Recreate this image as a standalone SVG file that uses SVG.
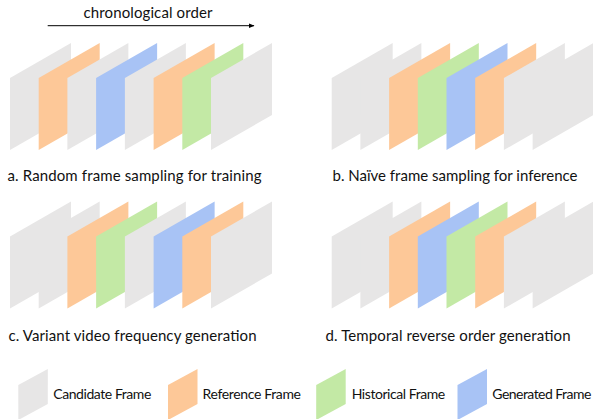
<svg xmlns="http://www.w3.org/2000/svg" xmlns:xlink="http://www.w3.org/1999/xlink" width="593" height="419" viewBox="0 0 593 419">
<style>
.g{fill:#E7E6E6}
.o{fill:#FDC898}
.h{fill:#C3E9A5}
.b{fill:#A8C3F5}
text{font-family:"Lato","Liberation Sans",sans-serif;font-size:15px;fill:#111}
.lg{font-size:14px}
</style>
<defs>
<polygon id="fr" points="0,35 61,0 61,72 0,107"/>
<polygon id="lf" points="0,16 29.5,0 29.5,35 0,51"/>
<marker id="ah" markerWidth="6" markerHeight="6" refX="5" refY="3" orient="auto" markerUnits="userSpaceOnUse">
<path d="M0,0.8 L5.5,3 L0,5.2 Z" fill="#000"/>
</marker>
</defs>
<g id="connectors">
<line x1="47.7" y1="25.7" x2="254" y2="25.7" stroke="#000" stroke-width="1" marker-end="url(#ah)"/>
</g>
<text x="83.5" y="17.5" textLength="129">chronological order</text>
<g id="panel-a">
<use id="a1" href="#fr" class="g" x="10" y="43"/>
<use id="a2" href="#fr" class="o" x="38.7" y="43"/>
<use id="a3" href="#fr" class="g" x="67.4" y="43"/>
<use id="a4" href="#fr" class="b" x="96.1" y="43"/>
<use id="a5" href="#fr" class="g" x="124.9" y="43"/>
<use id="a6" href="#fr" class="o" x="153.6" y="43"/>
<use id="a7" href="#fr" class="h" x="182.3" y="43"/>
<use id="a8" href="#fr" class="g" x="211" y="43"/>
<text x="7.5" y="181" textLength="254">a. Random frame sampling for training</text>
</g>
<g id="panel-b">
<use id="b1" href="#fr" class="g" x="331.7" y="43"/>
<use id="b2" href="#fr" class="g" x="360.4" y="43"/>
<use id="b3" href="#fr" class="o" x="389.1" y="43"/>
<use id="b4" href="#fr" class="h" x="417.8" y="43"/>
<use id="b5" href="#fr" class="b" x="446.5" y="43"/>
<use id="b6" href="#fr" class="o" x="475.2" y="43"/>
<use id="b7" href="#fr" class="g" x="503.9" y="43"/>
<use id="b8" href="#fr" class="g" x="532.6" y="43"/>
<text x="332.5" y="181" textLength="245">b. Naïve frame sampling for inference</text>
</g>
<g id="panel-c">
<use id="c1" href="#fr" class="g" x="10" y="201.5"/>
<use id="c2" href="#fr" class="g" x="38.7" y="201.5"/>
<use id="c3" href="#fr" class="o" x="67.4" y="201.5"/>
<use id="c4" href="#fr" class="h" x="96.1" y="201.5"/>
<use id="c5" href="#fr" class="g" x="124.9" y="201.5"/>
<use id="c6" href="#fr" class="b" x="153.6" y="201.5"/>
<use id="c7" href="#fr" class="o" x="182.3" y="201.5"/>
<use id="c8" href="#fr" class="g" x="211" y="201.5"/>
<text x="8.5" y="340.5" textLength="248">c. Variant video frequency generation</text>
</g>
<g id="panel-d">
<use id="d1" href="#fr" class="g" x="331.7" y="201.5"/>
<use id="d2" href="#fr" class="g" x="360.4" y="201.5"/>
<use id="d3" href="#fr" class="o" x="389.1" y="201.5"/>
<use id="d4" href="#fr" class="b" x="417.8" y="201.5"/>
<use id="d5" href="#fr" class="h" x="446.5" y="201.5"/>
<use id="d6" href="#fr" class="o" x="475.2" y="201.5"/>
<use id="d7" href="#fr" class="g" x="503.9" y="201.5"/>
<use id="d8" href="#fr" class="g" x="532.6" y="201.5"/>
<text x="325.5" y="340.5" textLength="245">d. Temporal reverse order generation</text>
</g>
<g id="legend">
<g id="leg-candidate"><use href="#lf" class="g" x="18.3" y="369"/><text class="lg" x="53.3" y="398.5" textLength="98">Candidate Frame</text></g>
<g id="leg-reference"><use href="#lf" class="o" x="168" y="369"/><text class="lg" x="202.5" y="398.5" textLength="98.5">Reference Frame</text></g>
<g id="leg-historical"><use href="#lf" class="h" x="316.2" y="369"/><text class="lg" x="351.7" y="398.5" textLength="93.5">Historical Frame</text></g>
<g id="leg-generated"><use href="#lf" class="b" x="457.5" y="369"/><text class="lg" x="492.3" y="398.5" textLength="99">Generated Frame</text></g>
</g>
</svg>
